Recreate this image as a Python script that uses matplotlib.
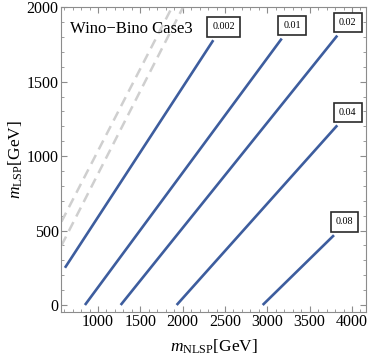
import matplotlib
matplotlib.use('Agg')
from matplotlib import pyplot as plt
from matplotlib.ticker import MultipleLocator

plt.rcParams['font.family'] = 'Liberation Serif'
plt.rcParams['mathtext.fontset'] = 'custom'
plt.rcParams['mathtext.rm'] = 'Liberation Serif'
plt.rcParams['mathtext.it'] = 'Liberation Serif:italic'

# contour lines: start and end points (GeV)
labels = ['0.002', '0.01', '0.02', '0.04', '0.08']
x_start = [610, 846, 1268, 1929, 2945]
y_start = [250, 0, 0, 0, 0]
x_end = [2362, 3170, 3826, 3826, 3787]
y_end = [1779, 1790, 1810, 1207, 469]

# gray dashed boundary lines
dash_x = [[569, 1874], [569, 2004]]
dash_y = [[560, 2000], [400, 2000]]

blue = '#3d5d9e'
gray = '#8c8c8c'

fig = plt.figure(figsize=(3.74, 3.57), dpi=100)
ax = fig.add_axes([0.1644, 0.1269, 0.8142, 0.8527])

for xs, ys in zip(dash_x, dash_y):
    ax.plot(xs, ys, color='#cfcfcf', lw=1.8, ls=(0, (4, 2.5)))

for i in range(len(labels)):
    ax.plot([x_start[i], x_end[i]], [y_start[i], y_end[i]], color=blue, lw=1.9,
            solid_capstyle='butt')
    ax.annotate(labels[i], (x_end[i], y_end[i]), xytext=(7.5, 9.5),
                textcoords='offset points', ha='center', va='center', fontsize=7.3,
                bbox=dict(boxstyle='square,pad=0.5', fc='white', ec='#2a2a2a', lw=1.2))

ax.text(0.028, 0.93, 'Wino\u2212Bino Case3', transform=ax.transAxes, fontsize=12,
        ha='left', va='center')

ax.set_xlim(569, 4165)
ax.set_ylim(-45, 2000)
ax.xaxis.set_major_locator(MultipleLocator(500))
ax.xaxis.set_minor_locator(MultipleLocator(100))
ax.yaxis.set_major_locator(MultipleLocator(500))
ax.yaxis.set_minor_locator(MultipleLocator(100))
ax.set_xticks([1000, 1500, 2000, 2500, 3000, 3500, 4000])
ax.tick_params(which='both', direction='in', top=True, right=True, color=gray,
               labelsize=11.5, pad=2)
ax.tick_params(which='major', length=4, width=0.8)
ax.tick_params(which='minor', length=2, width=0.6)
for s in ax.spines.values():
    s.set_color(gray)
    s.set_linewidth(0.8)

ax.set_xlabel(r'$m_{\mathrm{NLSP}}$[GeV]', fontsize=12.5, labelpad=5)
ax.set_ylabel(r'$m_{\mathrm{LSP}}$[GeV]', fontsize=12.5, labelpad=1)

fig.savefig('out.png', dpi=100)
